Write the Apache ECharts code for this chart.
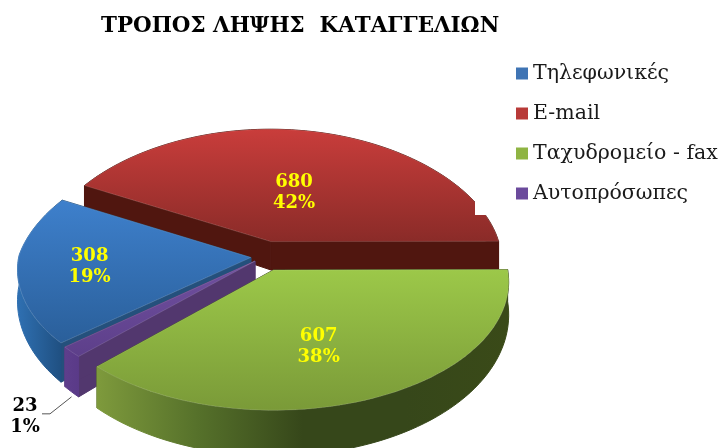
<!DOCTYPE html>
<html><head><meta charset="utf-8">
<style>html,body{margin:0;padding:0;background:#fff}#c{width:719px;height:448px}</style>
<script src="https://cdn.jsdelivr.net/npm/echarts@6/dist/echarts.min.js"></script>
</head><body><div id="c"></div>
<script>
const titleText = 'ΤΡΟΠΟΣ ΛΗΨΗΣ  ΚΑΤΑΓΓΕΛΙΩΝ';
const categories = ['Τηλεφωνικές', 'E-mail', 'Ταχυδρομείο - fax', 'Αυτοπρόσωπες'];
const values = [308, 680, 607, 23];

// Styling only (one entry per category)
const legendColors = ['#3f74b4', '#b83a38', '#8fb443', '#6b4a9c'];
const topStops = [['#3e80cc', '#2a5f9a'], ['#c93d3b', '#8a2b28'], ['#9cc849', '#7a9a38'], ['#70509f', '#5d3f8a']];
const arcStops = [['#2f70b2', '#1f4f80'], ['#50160f', '#50160f'], ['#7e9a3c', '#55702a', '#36471a', '#36471a', '#3a4a18'], ['#5e3e8c', '#5a3a88']];
const radialColors = ['#24507c', '#50160f', '#3a4a18', '#52376e'];
const seriesZ = [2, 1, 4, 3];
const labelRadius = [0.68, 0.47, 0.52, 1.3];
const labelNudge = [[-3, 1], [-1, 5], [-4, 13], [0, 0]];
const explodeY = [1, 1, 1, 0.5];
const FIRST_ANGLE = 140;     // where the first slice starts, degrees clockwise from east

// Projection of the tilted disc
const CX = 267, CY = 256, R = 232, RY = 125, KY = 0.09, KX_FRONT = 0.09, KX_BACK = 0.16, EX = 0.07, EY = 0.12;
const project = (u, v) => {
  const px = 1 / (1 - (v < 0 ? KX_BACK : KX_FRONT) * v), py = 1 / (1 - KY * v);
  return [CX + R * u * px, CY + RY * v * py];
};
const depth = v => 30 + 14 * v;

const total = values.reduce((a, b) => a + b, 0);
const rad = d => d * Math.PI / 180;

function gradient(points, stops, horizontal) {
  const xs = points.map(p => p[0]), ys = points.map(p => p[1]);
  return {
    type: 'linear', global: true,
    x: horizontal ? Math.min(...xs) : 0, y: horizontal ? 0 : Math.min(...ys),
    x2: horizontal ? Math.max(...xs) : 0, y2: horizontal ? 0 : Math.max(...ys),
    colorStops: stops.map((color, s) => ({ offset: s / (stops.length - 1), color }))
  };
}

function sliceItem(i) {
  return function (params, api) {
    const value = api.value(0);
    let before = 0;
    for (let j = 0; j < i; j++) before += values[j];
    const a0 = FIRST_ANGLE + before / total * 360;
    const a1 = a0 + value / total * 360;
    const mid = rad((a0 + a1) / 2);
    const ou = EX * Math.cos(mid), ov = EY * explodeY[i] * Math.sin(mid);
    const rim = a => [ou + Math.cos(rad(a)), ov + Math.sin(rad(a))];
    const down = (uv) => { const s = project(uv[0], uv[1]); return [s[0], s[1] + depth(uv[1])]; };
    const n = Math.max(4, Math.ceil((a1 - a0) / 2));
    const arcUV = [];
    for (let k = 0; k <= n; k++) arcUV.push(rim(a0 + (a1 - a0) * k / n));
    const apex = [ou, ov];
    const arcTop = arcUV.map(p => project(p[0], p[1]));
    const arcBot = arcUV.map(down);
    const apexTop = project(apex[0], apex[1]), apexBot = down(apex);
    const topFace = [apexTop].concat(arcTop);
    const arcWall = arcTop.concat(arcBot.slice().reverse());
    const children = [];
    const poly = (pts, fill, stroke) => children.push({ type: 'polygon', shape: { points: pts }, style: { fill, stroke: stroke || fill, lineWidth: 1 } });
    poly([apexTop, arcTop[0], arcBot[0], apexBot], radialColors[i]);
    poly([apexTop, arcTop[n], arcBot[n], apexBot], radialColors[i]);
    poly(arcWall, gradient(arcWall, arcStops[i], true));
    poly(topFace, gradient(topFace, topStops[i], false), 'rgba(255,255,255,0.12)');

    const pct = Math.round(value / total * 100);
    const lr = labelRadius[i];
    const outside = lr > 1;
    const lp = project(ou + lr * Math.cos(mid), ov + lr * Math.sin(mid));
    lp[0] += labelNudge[i][0]; lp[1] += labelNudge[i][1];
    if (outside) {
      const anchor = down(rim((a0 + a1) / 2));
      children.push({
        type: 'polyline',
        shape: { points: [[anchor[0], anchor[1] + 5], [50, anchor[1] + 22], [42, anchor[1] + 22]] },
        style: { stroke: '#555', lineWidth: 1, fill: 'none' }
      });
      lp[0] = 25; lp[1] = anchor[1] + 25;
    }
    children.push({
      type: 'text',
      style: {
        x: lp[0], y: lp[1], text: value + '\n' + pct + '%',
        fill: outside ? '#000' : '#ffff00',
        font: 'bold 18px "DejaVu Serif"', lineHeight: 21,
        align: 'center', verticalAlign: 'middle'
      }
    });
    return { type: 'group', children };
  };
}

const chart = echarts.init(document.getElementById('c'), null, { renderer: 'canvas' });
chart.setOption({
  animation: false,
  backgroundColor: '#fff',
  title: {
    text: titleText, left: 96, top: 11, z: 6,
    textStyle: { fontFamily: 'DejaVu Serif', fontWeight: 'bold', fontSize: 21.4, color: '#000' }
  },
  legend: {
    orient: 'vertical', left: 511, top: 58, z: 6,
    data: categories, icon: 'rect', itemWidth: 12, itemHeight: 12, itemGap: 19, selectedMode: false,
    textStyle: { fontFamily: 'DejaVu Serif', fontSize: 20.5, color: '#1a1a1a' }
  },
  graphic: [{
    type: 'rect', z: 5, silent: true,
    shape: { x: 475, y: 40, width: 244, height: 175 },
    style: { fill: '#fff' }
  }],
  series: categories.map((name, i) => ({
    type: 'custom', name, coordinateSystem: 'none', z: seriesZ[i],
    itemStyle: { color: legendColors[i] },
    data: [[values[i]]],
    renderItem: sliceItem(i)
  }))
});
</script></body></html>
